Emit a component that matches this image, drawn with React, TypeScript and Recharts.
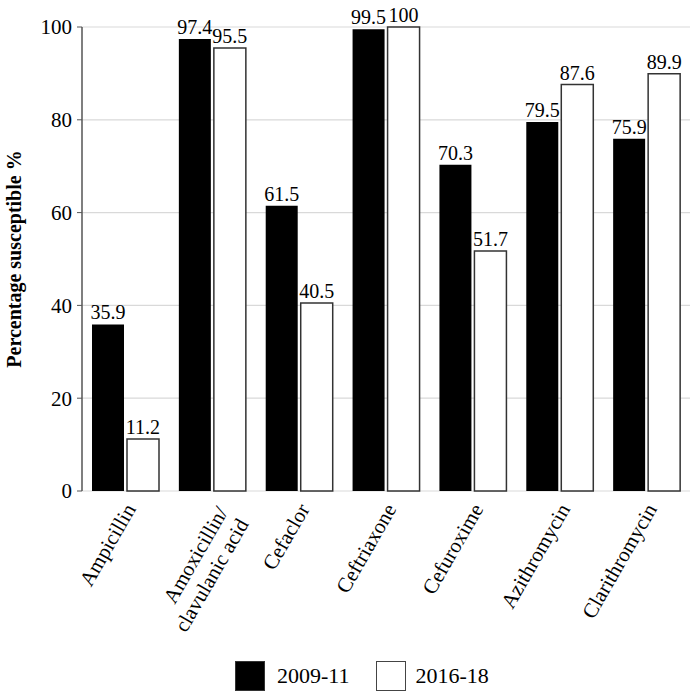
import React from "react";
import { BarChart, Bar, XAxis, YAxis, CartesianGrid, LabelList } from "recharts";

const categories = [
  "Ampicillin",
  "Amoxicillin/\nclavulanic acid",
  "Cefaclor",
  "Ceftriaxone",
  "Cefuroxime",
  "Azithromycin",
  "Clarithromycin",
];
const series2009 = [35.9, 97.4, 61.5, 99.5, 70.3, 79.5, 75.9];
const series2016 = [11.2, 95.5, 40.5, 100, 51.7, 87.6, 89.9];
const yTicks = [0, 20, 40, 60, 80, 100];
const seriesNames = ["2009-11", "2016-18"];

const data = categories.map((c, i) => ({ name: c, a: series2009[i], b: series2016[i] }));

const FONT = "'Liberation Serif', 'Times New Roman', serif";

const XTick = (props: any) => {
  const { x, y, payload } = props;
  const lines = String(payload.value).split("\n");
  const ax = x + 11;
  const ay = y + 18;
  return (
    <text
      x={ax}
      y={ay}
      transform={`rotate(-60 ${ax} ${ay})`}
      textAnchor="end"
      fontFamily={FONT}
      fontSize={21}
      fill="#000"
    >
      {lines.length === 1 ? (
        <tspan x={ax} dy={0}>{lines[0]}</tspan>
      ) : (
        lines.map((l, i) => (
          <tspan key={i} x={ax} dy={i === 0 ? 6 : 24}>
            {l}
          </tspan>
        ))
      )}
    </text>
  );
};

export default function App() {
  return (
    <div style={{ position: "absolute", left: 0, top: 0, width: 700, height: 694, background: "#fff" }}>
      <BarChart
        width={700}
        height={694}
        data={data}
        margin={{ top: 27, right: 10, left: 0, bottom: 63 }}
        barGap={3}
        barSize={32}
      >
        <CartesianGrid vertical={false} stroke="#d9d9d9" strokeWidth={1.2} />
        <XAxis
          dataKey="name"
          axisLine={false}
          tickLine={false}
          tickSize={0}
          tickMargin={0}
          height={140}
          interval={0}
          tick={<XTick />}
        />
        <YAxis
          domain={[0, 100]}
          ticks={yTicks}
          width={82}
          axisLine={{ stroke: "#555", strokeWidth: 1.5 }}
          tickLine={{ stroke: "#555" }}
          tickSize={5}
          tickMargin={5}
          tick={{ fontFamily: FONT, fontSize: 21, fill: "#000" }}
          label={{
            value: "Percentage susceptible %",
            angle: -90,
            position: "insideLeft",
            offset: 14,
            style: { textAnchor: "middle", fontFamily: FONT, fontSize: 20, fontWeight: "bold", fill: "#000" },
          }}
        />
        <Bar dataKey="a" name={seriesNames[0]} fill="#000" isAnimationActive={false}>
          <LabelList dataKey="a" position="top" offset={5} style={{ fontFamily: FONT, fontSize: 20, fill: "#000" }} />
        </Bar>
        <Bar dataKey="b" name={seriesNames[1]} fill="#fff" stroke="#333" strokeWidth={1.5} isAnimationActive={false}>
          <LabelList dataKey="b" position="top" offset={5} style={{ fontFamily: FONT, fontSize: 20, fill: "#000", stroke: "none" }} />
        </Bar>
      </BarChart>
      <div
        style={{
          position: "absolute",
          left: 235,
          top: 661,
          display: "flex",
          alignItems: "center",
          fontFamily: FONT,
          fontSize: 22,
          color: "#000",
        }}
      >
        <div style={{ width: 30, height: 30, background: "#000", boxSizing: "border-box", border: "1px solid #333" }} />
        <span style={{ marginLeft: 12, marginRight: 26 }}>{seriesNames[0]}</span>
        <div style={{ width: 30, height: 30, background: "#fff", boxSizing: "border-box", border: "1.5px solid #444" }} />
        <span style={{ marginLeft: 10 }}>{seriesNames[1]}</span>
      </div>
    </div>
  );
}
